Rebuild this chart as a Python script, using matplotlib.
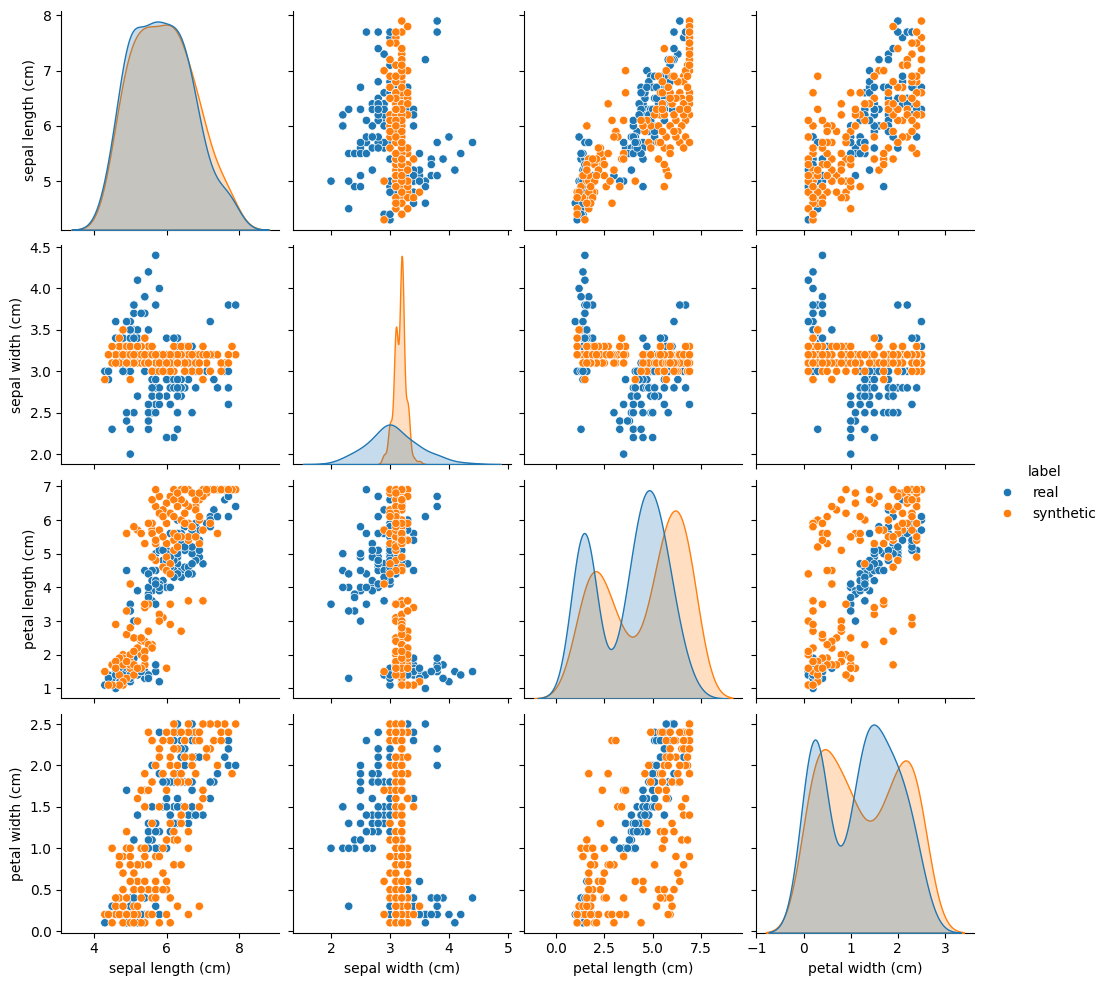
import matplotlib
matplotlib.use("Agg")
import pandas as pd
import seaborn as sns

columns = ["sepal length (cm)", "sepal width (cm)", "petal length (cm)", "petal width (cm)"]
labels = ["real", "synthetic"]

real_sepal_length = [
    5.1,4.9,4.7,4.6,5.0,5.4,4.6,5.0,4.4,4.9,5.4,4.8,4.8,4.3,5.8,5.7,5.4,5.1,5.7,5.1,5.4,5.1,4.6,5.1,4.8,
    5.0,5.0,5.2,5.2,4.7,4.8,5.4,5.2,5.5,4.9,5.0,5.5,4.9,4.4,5.1,5.0,4.5,4.4,5.0,5.1,4.8,5.1,4.6,5.3,5.0,
    7.0,6.4,6.9,5.5,6.5,5.7,6.3,4.9,6.6,5.2,5.0,5.9,6.0,6.1,5.6,6.7,5.6,5.8,6.2,5.6,5.9,6.1,6.3,6.1,6.4,
    6.6,6.8,6.7,6.0,5.7,5.5,5.5,5.8,6.0,5.4,6.0,6.7,6.3,5.6,5.5,5.5,6.1,5.8,5.0,5.6,5.7,5.7,6.2,5.1,5.7,
    6.3,5.8,7.1,6.3,6.5,7.6,4.9,7.3,6.7,7.2,6.5,6.4,6.8,5.7,5.8,6.4,6.5,7.7,7.7,6.0,6.9,5.6,7.7,6.3,6.7,
    7.2,6.2,6.1,6.4,7.2,7.4,7.9,6.4,6.3,6.1,7.7,6.3,6.4,6.0,6.9,6.7,6.9,5.8,6.8,6.7,6.7,6.3,6.5,6.2,5.9]
real_sepal_width = [
    3.5,3.0,3.2,3.1,3.6,3.9,3.4,3.4,2.9,3.1,3.7,3.4,3.0,3.0,4.0,4.4,3.9,3.5,3.8,3.8,3.4,3.7,3.6,3.3,3.4,
    3.0,3.4,3.5,3.4,3.2,3.1,3.4,4.1,4.2,3.1,3.2,3.5,3.6,3.0,3.4,3.5,2.3,3.2,3.5,3.8,3.0,3.8,3.2,3.7,3.3,
    3.2,3.2,3.1,2.3,2.8,2.8,3.3,2.4,2.9,2.7,2.0,3.0,2.2,2.9,2.9,3.1,3.0,2.7,2.2,2.5,3.2,2.8,2.5,2.8,2.9,
    3.0,2.8,3.0,2.9,2.6,2.4,2.4,2.7,2.7,3.0,3.4,3.1,2.3,3.0,2.5,2.6,3.0,2.6,2.3,2.7,3.0,2.9,2.9,2.5,2.8,
    3.3,2.7,3.0,2.9,3.0,3.0,2.5,2.9,2.5,3.6,3.2,2.7,3.0,2.5,2.8,3.2,3.0,3.8,2.6,2.2,3.2,2.8,2.8,2.7,3.3,
    3.2,2.8,3.0,2.8,3.0,2.8,3.8,2.8,2.8,2.6,3.0,3.4,3.1,3.0,3.1,3.1,3.1,2.7,3.2,3.3,3.0,2.5,3.0,3.4,3.0]
real_petal_length = [
    1.4,1.4,1.3,1.5,1.4,1.7,1.4,1.5,1.4,1.5,1.5,1.6,1.4,1.1,1.2,1.5,1.3,1.4,1.7,1.5,1.7,1.5,1.0,1.7,1.9,
    1.6,1.6,1.5,1.4,1.6,1.6,1.5,1.5,1.4,1.5,1.2,1.3,1.4,1.3,1.5,1.3,1.3,1.3,1.6,1.9,1.4,1.6,1.4,1.5,1.4,
    4.7,4.5,4.9,4.0,4.6,4.5,4.7,3.3,4.6,3.9,3.5,4.2,4.0,4.7,3.6,4.4,4.5,4.1,4.5,3.9,4.8,4.0,4.9,4.7,4.3,
    4.4,4.8,5.0,4.5,3.5,3.8,3.7,3.9,5.1,4.5,4.5,4.7,4.4,4.1,4.0,4.4,4.6,4.0,3.3,4.2,4.2,4.2,4.3,3.0,4.1,
    6.0,5.1,5.9,5.6,5.8,6.6,4.5,6.3,5.8,6.1,5.1,5.3,5.5,5.0,5.1,5.3,5.5,6.7,6.9,5.0,5.7,4.9,6.7,4.9,5.7,
    6.0,4.8,4.9,5.6,5.8,6.1,6.4,5.6,5.1,5.6,6.1,5.6,5.5,4.8,5.4,5.6,5.1,5.1,5.9,5.7,5.2,5.0,5.2,5.4,5.1]
real_petal_width = [
    0.2,0.2,0.2,0.2,0.2,0.4,0.3,0.2,0.2,0.1,0.2,0.2,0.1,0.1,0.2,0.4,0.4,0.3,0.3,0.3,0.2,0.4,0.2,0.5,0.2,
    0.2,0.4,0.2,0.2,0.2,0.2,0.4,0.1,0.2,0.2,0.2,0.2,0.1,0.2,0.2,0.3,0.3,0.2,0.6,0.4,0.3,0.2,0.2,0.2,0.2,
    1.4,1.5,1.5,1.3,1.5,1.3,1.6,1.0,1.3,1.4,1.0,1.5,1.0,1.4,1.3,1.4,1.5,1.0,1.5,1.1,1.8,1.3,1.5,1.2,1.3,
    1.4,1.4,1.7,1.5,1.0,1.1,1.0,1.2,1.6,1.5,1.6,1.5,1.3,1.3,1.3,1.2,1.4,1.2,1.0,1.3,1.2,1.3,1.3,1.1,1.3,
    2.5,1.9,2.1,1.8,2.2,2.1,1.7,1.8,1.8,2.5,2.0,1.9,2.1,2.0,2.4,2.3,1.8,2.2,2.3,1.5,2.3,2.0,2.0,1.8,2.1,
    1.8,1.8,1.8,2.1,1.6,1.9,2.0,2.2,1.5,1.4,2.3,2.4,1.8,1.8,2.1,2.4,2.3,1.9,2.3,2.5,2.3,1.9,2.0,2.3,1.8]

syn_sepal_length = [
    7.9,7.6,7.4,7.2,7.0,6.6,6.2,7.7,7.5,6.9, 6.8,6.6,6.2,6.0,7.3,7.5,6.8,5.6,6.3,5.8,
    6.7,6.1,5.8,7.1,6.7,6.1,7.4,5.7,7.8,6.8, 6.2,5.9,6.4,6.6,6.0,7.0,7.0,6.9,6.5,6.4,
    6.4,6.1,6.4,6.2,6.6,6.2,6.0,6.6,5.7,6.2, 6.4,5.9,6.0,5.7,6.0,6.4,5.6,6.2,6.3,6.9,
    6.0,6.1,6.5,7.2,6.9,6.3,6.7,5.6,6.5,6.8, 6.3,6.5,6.9,5.4,5.2,4.9,6.1,5.9,6.4,5.3,
    5.5,7.0,5.8,5.4,5.6,5.3,5.9,4.8,5.0,5.4, 5.8,5.3,5.5,5.1,5.2,5.4,5.0,5.5,5.7,5.9,
    5.3,6.1,5.6,5.2,5.5,5.6,6.6,5.4,5.8,4.8, 5.0,5.4,6.0,4.5,4.9,5.0,4.7,4.7,5.2,4.8,
    5.0,5.1,4.7,4.9,4.6,4.3,4.6,4.9,5.1,4.8, 5.0,5.3,4.8,4.7,4.5,4.4,5.1,5.3,5.5,5.0,
    5.2,4.9,4.6,5.4,5.1,5.6,5.7,7.7,7.1,6.3]
syn_sepal_width = [
    3.2,3.1,3.2,3.0,3.2,3.1,3.2,3.2,3.1,3.2, 3.2,3.1,3.3,3.2,3.2,3.0,3.1,3.2,3.2,3.2,
    3.2,3.1,3.2,3.1,3.0,3.2,3.2,3.1,3.3,3.2, 3.1,3.2,3.2,3.1,3.0,2.9,3.3,3.1,3.2,3.1,
    3.2,3.0,3.2,3.1,3.2,3.0,3.2,3.1,3.2,3.1, 3.2,3.0,3.2,3.1,3.1,3.2,3.0,3.2,3.1,3.2,
    3.2,3.0,3.1,3.2,3.0,3.1,3.2,3.2,3.3,3.1, 3.2,3.0,3.1,3.2,3.1,3.2,3.2,3.1,3.3,3.2,
    3.1,3.2,3.2,3.4,3.2,3.1,3.2,3.3,3.1,3.2, 3.0,3.2,3.3,3.1,3.3,3.1,2.9,3.2,3.2,3.0,
    3.3,3.1,3.2,3.3,3.2,3.3,3.3,3.1,3.1,3.2, 3.1,3.2,3.1,3.1,3.2,3.3,3.2,3.1,3.2,3.3,
    3.2,3.1,3.3,3.2,3.2,2.9,3.2,3.3,3.1,3.2, 3.3,3.2,3.5,3.4,3.3,3.2,3.1,3.2,3.1,3.2,
    3.3,3.1,3.1,3.2,3.2,3.2,3.2,3.1,3.2,3.1]
syn_petal_length = [
    6.9,6.9,6.9,6.9,6.9,6.9,6.9,6.9,6.9,6.6, 6.4,5.9,5.4,4.9,6.9,6.9,6.6,5.7,6.5,6.7,
    5.8,6.2,5.7,6.8,6.8,6.7,5.6,4.8,6.9,6.3, 5.4,4.6,6.0,6.4,5.3,5.7,6.7,5.3,6.5,6.6,
    6.9,4.7,6.0,6.1,5.4,5.6,6.5,5.5,6.9,5.1, 6.6,6.3,4.5,6.4,4.5,5.5,5.6,6.6,5.2,6.0,
    5.9,4.4,6.2,5.9,6.8,5.5,5.8,4.9,5.9,5.5, 6.4,6.9,6.1,5.3,5.7,5.6,2.9,3.1,2.7,2.4,
    3.5,3.6,3.2,3.4,2.3,2.5,5.5,2.0,2.0,3.5, 6.2,2.0,2.7,2.5,2.2,2.4,4.1,2.3,5.3,6.1,
    2.5,3.5,5.9,2.2,2.7,2.2,3.6,2.1,3.0,1.9, 1.8,1.7,1.6,1.7,1.3,1.6,1.4,1.8,3.0,1.7,
    1.7,1.7,1.9,2.6,1.8,1.5,2.9,3.3,5.8,1.1, 2.0,1.6,1.2,1.1,1.1,1.1,1.4,5.6,5.9,2.8,
    1.6,1.8,1.6,1.9,2.1,6.6,5.4,6.9,6.9,6.8]
syn_petal_width = [
    2.5,2.5,2.5,2.5,2.5,2.5,2.5,2.4,2.4,2.4, 2.4,2.4,2.4,2.4,2.3,2.3,2.3,2.3,2.2,2.2,
    2.1,2.1,2.1,2.1,2.0,2.0,2.0,2.0,1.9,1.9, 1.9,1.9,1.8,1.8,1.7,1.7,1.6,1.5,1.5,1.4,
    1.4,1.3,1.3,1.2,1.2,1.1,1.1,1.0,0.9,0.8, 0.8,0.7,0.6,0.6,0.5,2.4,0.4,2.2,0.3,0.3,
    0.2,0.1,2.3,2.2,2.4,1.8,2.0,1.8,2.1,1.9, 2.0,2.3,2.3,1.7,1.6,1.2,2.3,2.3,1.9,1.7,
    1.7,1.7,1.5,1.5,1.3,1.0,1.0,0.9,0.9,0.9, 0.9,0.8,0.8,0.7,0.6,0.6,0.6,0.5,0.5,0.5,
    0.4,0.4,0.4,0.2,0.2,0.2,0.2,0.1,0.1,0.5, 0.2,1.9,1.1,1.0,1.0,1.0,0.9,0.8,0.8,0.7,
    0.6,0.5,0.4,0.4,0.3,0.2,0.2,0.2,0.2,0.1, 0.1,0.1,0.3,0.2,0.1,0.2,0.3,0.5,2.4,0.8,
    0.3,0.2,0.4,1.0,0.1,2.3,0.4,2.4,2.2,1.1]

real = pd.DataFrame({columns[0]: real_sepal_length, columns[1]: real_sepal_width,
                     columns[2]: real_petal_length, columns[3]: real_petal_width})
real["label"] = labels[0]
syn = pd.DataFrame({columns[0]: syn_sepal_length, columns[1]: syn_sepal_width,
                    columns[2]: syn_petal_length, columns[3]: syn_petal_width})
syn["label"] = labels[1]
df = pd.concat([real, syn], ignore_index=True)

g = sns.pairplot(df, hue="label", hue_order=labels)
g.savefig("out.png", dpi=100)
